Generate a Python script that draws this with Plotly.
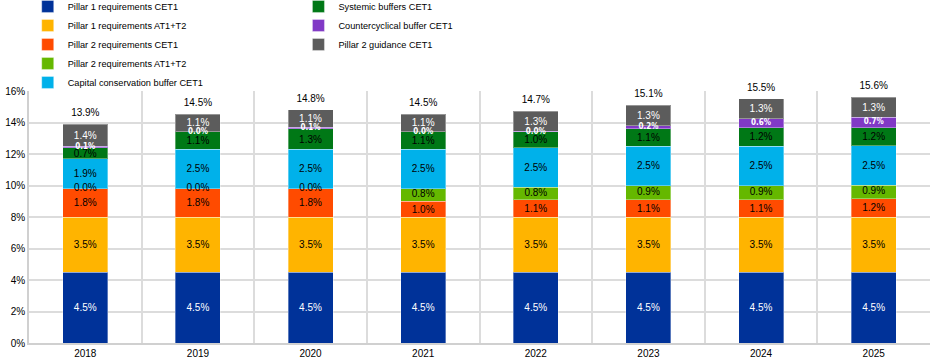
import plotly.graph_objects as go

years = ["2018", "2019", "2020", "2021", "2022", "2023", "2024", "2025"]

p1_cet1 = [4.5, 4.5, 4.5, 4.5, 4.5, 4.5, 4.5, 4.5]
p1_at1t2 = [3.5, 3.5, 3.5, 3.5, 3.5, 3.5, 3.5, 3.5]
p2r_cet1 = [1.8, 1.8, 1.8, 1.0, 1.1, 1.1, 1.09, 1.16]
p2r_at1t2 = [0.0, 0.0, 0.0, 0.8, 0.8, 0.9, 0.91, 0.86]
ccb_cet1 = [1.9, 2.5, 2.5, 2.5, 2.5, 2.5, 2.5, 2.5]
systemic = [0.7, 1.1, 1.3, 1.1, 1.0, 1.1, 1.16, 1.16]
ccyb = [0.1, 0.02, 0.1, 0.02, 0.03, 0.2, 0.59, 0.66]
p2g_cet1 = [1.4, 1.1, 1.1, 1.1, 1.3, 1.3, 1.27, 1.26]

# name, values, colour, label colour, legend, label drawn on top layer
series = [
    ("Pillar 1 requirements CET1", p1_cet1, "#003299", "white", "legend", False),
    ("Pillar 1 requirements AT1+T2", p1_at1t2, "#FFB400", "black", "legend", False),
    ("Pillar 2 requirements CET1", p2r_cet1, "#FF4B00", "black", "legend", False),
    ("Pillar 2 requirements AT1+T2", p2r_at1t2, "#65B800", "black", "legend", True),
    ("Capital conservation buffer CET1", ccb_cet1, "#00B1EA", "black", "legend", False),
    ("Systemic buffers CET1", systemic, "#007816", "black", "legend2", False),
    ("Countercyclical buffer CET1", ccyb, "#8139C6", "white", "legend2", True),
    ("Pillar 2 guidance CET1", p2g_cet1, "#5C5C5C", "white", "legend2", False),
]

FONT = "Liberation Sans, Arial, sans-serif"

fig = go.Figure()
overlay = []
base = [0.0] * len(years)
for name, vals, color, tcol, leg, on_top in series:
    fig.add_trace(go.Bar(
        x=years, y=vals, name=name,
        marker=dict(color=color, line=dict(color="rgba(255,255,255,0.35)", width=1)),
        texttemplate="%{y:.1f}%" if not on_top else None,
        textposition="inside" if not on_top else "none",
        insidetextanchor="middle",
        textangle=0,
        constraintext="none",
        textfont=dict(family=FONT, size=10, color=tcol),
        legend=leg,
        hoverinfo="skip",
    ))
    if on_top:
        mids = [b + v / 2 for b, v in zip(base, vals)]
        overlay.append((vals, mids, tcol, name.startswith("Countercyclical")))
    base = [b + v for b, v in zip(base, vals)]

for vals, mids, tcol, small in overlay:
    fig.add_trace(go.Scatter(
        x=years, y=mids, mode="text",
        text=[f"{v:.1f}%" for v in vals],
        textposition="middle center",
        textfont=dict(family=("DejaVu Sans Condensed, " + FONT) if small else FONT,
                      size=8 if small else 10, color=tcol,
                      weight="bold" if small else "normal"),
        cliponaxis=False, showlegend=False, hoverinfo="skip",
    ))

totals = base
fig.add_trace(go.Scatter(
    x=years, y=totals, mode="markers+text",
    marker=dict(size=7, color="rgba(0,0,0,0)"),
    text=[f"{t:.1f}%" for t in totals],
    textposition="top center",
    textfont=dict(family=FONT, size=10, color="black"),
    cliponaxis=False,
    showlegend=False, hoverinfo="skip",
))

fig.update_layout(
    width=940, height=364,
    margin=dict(l=29, r=10, t=91, b=21, autoexpand=False),
    barmode="stack",
    bargap=0.6,
    plot_bgcolor="white", paper_bgcolor="white",
    font=dict(family=FONT, size=10, color="black"),
    legend=dict(xref="container", yref="paper", x=0.0295, y=1.393,
                xanchor="left", yanchor="top", orientation="v",
                font=dict(family=FONT, size=9.2), bgcolor="rgba(0,0,0,0)",
                traceorder="normal"),
    legend2=dict(xref="container", yref="paper", x=0.3175, y=1.393,
                 xanchor="left", yanchor="top", orientation="v",
                 font=dict(family=FONT, size=9.2), bgcolor="rgba(0,0,0,0)",
                 traceorder="normal"),
    xaxis=dict(type="category", tickson="boundaries", showgrid=True,
               gridcolor="#dcdcdc", gridwidth=1.5, showline=True,
               linecolor="#d0d0d0", linewidth=1.5, ticks="", mirror=False,
               tickfont=dict(size=10)),
    yaxis=dict(range=[0, 16], dtick=2, ticksuffix="%", showgrid=True,
               gridcolor="#dcdcdc", gridwidth=1.5, showline=True,
               linecolor="#d0d0d0", linewidth=1.5, zeroline=False,
               tickfont=dict(size=10)),
)

fig.write_html("out.html", config={"displayModeBar": False},
               post_script="document.body.style.margin='0px';")
